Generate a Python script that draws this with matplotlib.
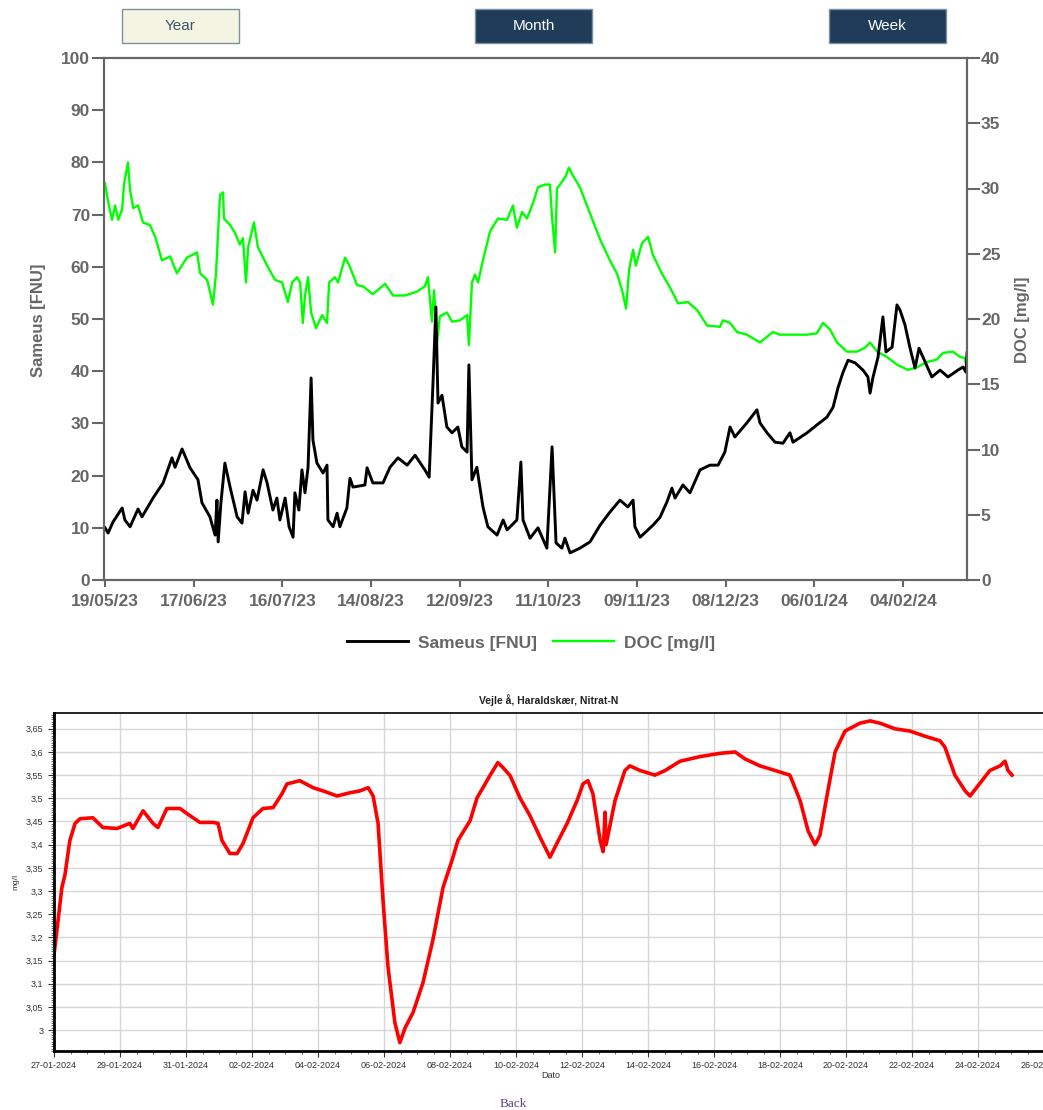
import matplotlib
matplotlib.use('Agg')
import matplotlib.pyplot as plt
import matplotlib.dates as mdates
from matplotlib.patches import Rectangle
from matplotlib.ticker import MultipleLocator, FuncFormatter
from matplotlib.lines import Line2D
import pandas as pd

plt.rcParams['font.family'] = ['Liberation Sans', 'DejaVu Sans']

# --- top chart: Sameus (turbidity) and DOC, days since 19/05/23 ---
top_start = pd.Timestamp("2023-05-19")
sameus_days = [0, 1.0, 2.6, 5.6, 6.5, 8.2, 10.8, 12.1, 15.7, 19.0, 21.9, 22.9, 25.2, 27.8, 30.4,
               31.7, 34.3, 36.0, 36.6, 37.0, 37.9, 39.2, 40.9, 43.2, 44.8, 45.8, 46.8, 48.4, 49.7,
               51.7, 53.0, 54.9, 56.2, 57.2, 58.9, 60.2, 61.5, 62.1, 63.4, 64.4, 65.4, 66.4, 67.4,
               68.0, 69.3, 71.3, 72.6, 72.9, 74.6, 75.9, 76.8, 79.1, 80.1, 81.1, 85.0, 85.7, 87.6,
               90.9, 93.2, 95.8, 98.8, 101.4, 104.6, 106.0, 107.3, 108.2, 108.9, 110.2, 111.8,
               113.5, 115.4, 116.7, 118.4, 119.0, 120.0, 121.6, 123.6, 125.2, 128.2, 130.2, 131.5,
               134.7, 136.0, 136.7, 139.0, 141.6, 144.5, 146.2, 147.5, 149.4, 150.4, 152.1, 155.3,
               158.6, 161.9, 165.1, 168.4, 171.0, 172.7, 173.3, 175.0, 179.2, 181.5, 183.8, 185.4,
               186.4, 189.0, 191.3, 194.6, 197.8, 200.5, 202.7, 204.4, 206.0, 209.9, 213.2, 214.2,
               216.5, 219.1, 221.7, 224.0, 225.0, 229.6, 232.8, 236.1, 238.1, 239.7, 241.3, 243.0,
               245.3, 247.9, 249.5, 250.2, 251.1, 252.8, 254.4, 255.4, 257.4, 259.0, 260.0, 261.6,
               263.2, 264.9, 266.2, 268.2, 270.4, 273.1, 275.7, 278.9, 280.6, 281.6, 281.9]
sameus_fnu = [10.0, 9.0, 11.1, 13.8, 11.5, 10.2, 13.6, 12.1, 15.7, 18.6, 23.4, 21.6, 25.1, 21.5, 19.2,
              14.8, 12.1, 8.6, 15.3, 7.3, 14.8, 22.4, 17.8, 12.1, 10.9, 16.9, 12.8, 17.2, 15.3,
              21.1, 18.6, 13.4, 15.7, 11.5, 15.7, 10.2, 8.2, 16.7, 13.4, 21.1, 16.7, 21.6, 38.7,
              26.8, 22.4, 20.5, 22.0, 11.5, 10.2, 12.8, 10.2, 13.8, 19.5, 17.8, 18.2, 21.5, 18.6,
              18.6, 21.6, 23.4, 22.0, 23.9, 21.1, 19.7, 38.3, 52.3, 33.9, 35.4, 29.3,
              28.2, 29.3, 25.5, 24.5, 41.2, 19.2, 21.6, 14.0, 10.2, 8.6, 11.5, 9.6,
              11.5, 22.6, 11.5, 8.0, 10.0, 6.1, 25.5, 7.1, 6.1, 8.0, 5.2, 6.1,
              7.3, 10.5, 13.0, 15.3, 14.0, 15.3, 10.2, 8.2, 10.5, 12.0, 15.0, 17.6,
              15.7, 18.2, 16.7, 21.1, 22.0, 22.0, 24.5, 29.3, 27.4, 30.1, 32.6, 30.1,
              28.2, 26.4, 26.2, 28.2, 26.4, 28.2, 29.7, 31.2, 33.1, 36.8, 39.7, 42.1,
              41.6, 40.2, 38.9, 35.8, 38.7, 42.7, 50.4, 43.7, 44.6, 52.7, 51.7, 48.9,
              44.6, 40.6, 44.4, 41.8, 38.9, 40.2, 38.9, 40.2, 40.8, 39.8, 43.5]

doc_days = [0, 1.0, 2.3, 3.3, 4.3, 5.6, 6.2, 7.5, 8.2, 9.2, 10.8, 12.4, 14.7, 16.4, 18.6, 21.3,
            23.5, 26.8, 30.1, 31.1, 33.4, 35.3, 36.3, 37.6, 38.6, 38.9, 40.9, 42.5, 44.1, 45.1,
            46.1, 46.8, 48.7, 50.0, 53.0, 55.6, 57.9, 59.8, 61.2, 62.8, 63.8, 64.7, 65.4, 66.4,
            67.4, 69.0, 71.0, 72.6, 73.3, 75.2, 76.2, 78.5, 80.1, 82.4, 84.4, 87.6, 91.6, 94.2,
            98.1, 102.0, 104.6, 105.6, 106.9, 107.6, 108.6, 109.5, 111.8, 113.5, 116.1, 118.4,
            119.0, 120.0, 121.0, 122.0, 123.6, 125.9, 128.5, 131.5, 133.4, 134.7, 136.4, 138.0,
            140.0, 141.6, 143.9, 145.5, 146.2, 147.2, 147.8, 149.4, 150.8, 151.7, 153.0, 155.3,
            158.6, 161.9, 165.1, 167.4, 169.1, 170.4, 171.4, 172.7, 173.6, 175.6, 177.6, 179.2,
            182.1, 184.8, 187.4, 190.6, 193.6, 196.9, 201.1, 202.1, 204.4, 206.7, 209.9, 214.2,
            218.4, 220.7, 225.0, 229.6, 232.8, 234.8, 237.1, 239.4, 242.6, 245.9, 248.5, 250.2,
            252.5, 255.7, 259.0, 262.6, 265.5, 268.8, 272.1, 274.0, 277.3, 279.6, 281.2, 281.9]
doc_mgl = [30.4, 29.0, 27.6, 28.7, 27.6, 28.4, 30.3, 32.0, 29.9, 28.5, 28.7, 27.4, 27.2, 26.3, 24.5, 24.8,
           23.5, 24.7, 25.1, 23.5, 23.0, 21.1, 23.5, 29.5, 29.7, 27.7, 27.2, 26.6, 25.7, 26.2,
           22.8, 25.5, 27.4, 25.5, 24.1, 23.0, 22.8, 21.3, 22.8, 23.2, 22.8, 19.7, 21.8, 23.2,
           20.5, 19.3, 20.3, 19.7, 22.8, 23.2, 22.8, 24.7, 24.0, 22.6, 22.5, 21.9, 22.7, 21.8,
           21.8, 22.1, 22.5, 23.2, 19.8, 22.2, 18.2, 20.2, 20.5, 19.8, 19.9, 20.3,
           18.0, 22.8, 23.4, 22.8, 24.5, 26.7, 27.7, 27.6, 28.7, 27.0, 28.2, 27.7,
           28.9, 30.1, 30.3, 30.3, 27.8, 25.1, 30.0, 30.5, 31.0, 31.6, 31.0, 30.1,
           28.1, 26.1, 24.5, 23.5, 22.2, 20.8, 23.8, 25.3, 24.1, 25.8, 26.3, 24.9,
           23.5, 22.4, 21.2, 21.3, 20.7, 19.5, 19.4, 19.9, 19.7, 19.0, 18.8, 18.2,
           19.0, 18.8, 18.8, 18.8, 18.9, 19.7, 19.2, 18.2, 17.5, 17.5, 17.8, 18.2,
           17.5, 17.1, 16.5, 16.1, 16.3, 16.7, 16.9, 17.4, 17.5, 17.1, 17.0, 16.1]

# --- bottom chart: Nitrat-N, days since 27-01-2024 ---
bot_start = pd.Timestamp("2024-01-27")
nitrat_days = [0.00, 0.24, 0.33, 0.48, 0.64, 0.79, 1.18, 1.48, 1.91, 2.30, 2.39, 2.70, 3.00, 3.15,
               3.42, 3.82, 4.03, 4.42, 4.82, 4.97, 5.09, 5.33, 5.55, 5.73, 6.03, 6.33, 6.64, 6.91,
               7.06, 7.45, 7.85, 8.15, 8.58, 8.97, 9.27, 9.52, 9.67, 9.82, 9.97, 10.12, 10.33,
               10.48, 10.64, 10.88, 11.18, 11.48, 11.79, 12.06, 12.24, 12.61, 12.82, 13.00, 13.21,
               13.45, 13.61, 13.82, 14.12, 14.42, 14.73, 15.03, 15.24, 15.55, 15.85, 16.03, 16.18,
               16.33, 16.55, 16.64, 16.70, 16.73, 17.00, 17.30, 17.45, 17.76, 18.21, 18.52, 18.97,
               19.58, 20.18, 20.64, 20.94, 21.39, 21.85, 22.30, 22.61, 22.85, 23.06, 23.21, 23.45,
               23.67, 23.97, 24.42, 24.73, 25.03, 25.48, 25.94, 26.39, 26.85, 27.00, 27.30, 27.61,
               27.76, 28.00, 28.36, 28.67, 28.82, 28.91, 29.03]
nitrat_mgl = [3.162, 3.308, 3.334, 3.409, 3.446, 3.456, 3.458, 3.437, 3.435, 3.446, 3.435, 3.473, 3.446, 3.437,
              3.478, 3.478, 3.467, 3.448, 3.448, 3.446, 3.409, 3.381, 3.381, 3.403, 3.458, 3.478, 3.480, 3.510,
              3.531, 3.538, 3.523, 3.516, 3.505, 3.512, 3.516, 3.523, 3.505, 3.446, 3.280, 3.137, 3.016,
              2.973, 3.005, 3.038, 3.102, 3.194, 3.308, 3.366, 3.409, 3.452, 3.501, 3.523, 3.549,
              3.577, 3.566, 3.549, 3.501, 3.463, 3.416, 3.373, 3.403, 3.446, 3.495, 3.531, 3.538,
              3.510, 3.409, 3.385, 3.470, 3.400, 3.495, 3.560, 3.570, 3.560, 3.550, 3.560, 3.580,
              3.590, 3.597, 3.600, 3.585, 3.570, 3.560, 3.550, 3.495, 3.430, 3.400, 3.420, 3.516,
              3.600, 3.645, 3.662, 3.667, 3.662, 3.650, 3.645, 3.634, 3.624, 3.610, 3.550, 3.516,
              3.505, 3.527, 3.560, 3.570, 3.580, 3.560, 3.550]

W, H = 1043, 1110
fig = plt.figure(figsize=(W / 100, H / 100), dpi=100)
fig.patch.set_facecolor("white")

grey = "#666666"

# buttons
buttons = [("Year", 122, "#f4f4e3", "#3f5366"), ("Month", 475, "#1f3d58", "white"),
           ("Week", 829, "#1f3d58", "white")]
for label, bx, fill, tc in buttons:
    fig.add_artist(Rectangle((bx / W, 1 - 43 / H), 117 / W, 34 / H, transform=fig.transFigure,
                             facecolor=fill, edgecolor="#7f8f9c", lw=1))
    fig.text((bx + 58.5) / W, 1 - 26 / H, label, color=tc, fontsize=11, ha="center", va="center")

# top chart
ax1 = fig.add_axes([104 / W, 1 - 580 / H, (967 - 104) / W, (580 - 58) / H])
ax2 = ax1.twinx()
t_sameus = top_start + pd.to_timedelta(sameus_days, unit="D")
t_doc = top_start + pd.to_timedelta(doc_days, unit="D")
ax2.plot(t_doc, doc_mgl, color="#00ff00", lw=1.7)
ax1.plot(t_sameus, sameus_fnu, color="black", lw=2.1)
ax1.set_zorder(ax2.get_zorder() + 1)
ax1.patch.set_visible(False)

ax1.set_ylim(0, 100)
ax2.set_ylim(0, 40)
ax1.set_xlim(top_start - pd.Timedelta(hours=8), top_start + pd.Timedelta(days=281.9))
ax1.yaxis.set_major_locator(MultipleLocator(10))
ax2.yaxis.set_major_locator(MultipleLocator(5))
tick_dates = [top_start + pd.Timedelta(days=29 * i) for i in range(10)]
ax1.set_xticks(tick_dates)
ax1.xaxis.set_major_formatter(mdates.DateFormatter("%d/%m/%y"))
for ax in (ax1, ax2):
    for s in ax.spines.values():
        s.set_color(grey)
        s.set_linewidth(1.5)
    ax.tick_params(colors=grey, width=1.5, labelsize=12.5)
    for lab in ax.get_xticklabels() + ax.get_yticklabels():
        lab.set_fontweight("bold")
ax1.tick_params(axis="y", length=9, pad=1)
ax2.tick_params(axis="y", length=9, pad=1)
ax1.tick_params(axis="x", length=5, pad=5)

fig.text(38 / W, 1 - 320 / H, "Sameus [FNU]", rotation=90, color=grey, fontsize=12,
         fontweight="bold", ha="center", va="center")
fig.text(1022 / W, 1 - 320 / H, "DOC [mg/l]", rotation=90, color=grey, fontsize=12,
         fontweight="bold", ha="center", va="center")

handles = [Line2D([], [], color="black", lw=2.1), Line2D([], [], color="#00ff00", lw=1.7)]
fig.legend(handles, ["Sameus [FNU]", "DOC [mg/l]"], loc="center",
           bbox_to_anchor=(531 / W, 1 - 643 / H), ncol=2, frameon=False,
           prop={"weight": "bold", "size": 12.5}, labelcolor=grey, handlelength=3.5,
           handletextpad=0.6, columnspacing=0.9)

# bottom chart
ax3 = fig.add_axes([54 / W, 1 - 1051 / H, (1077 - 54) / W, (1051 - 713) / H])
t_nitrat = bot_start + pd.to_timedelta(nitrat_days, unit="D")
ax3.plot(t_nitrat, nitrat_mgl, color="#ff0000", lw=2.6)
ax3.set_xlim(bot_start, bot_start + pd.Timedelta(days=31))
ax3.set_ylim(2.955, 3.684)
ax3.yaxis.set_major_locator(MultipleLocator(0.05))
ax3.yaxis.set_minor_locator(MultipleLocator(0.005))
ax3.yaxis.set_major_formatter(FuncFormatter(lambda v, p: ("%g" % round(v, 2)).replace(".", ",")))
ax3.set_xticks([bot_start + pd.Timedelta(days=2 * i) for i in range(16)])
ax3.set_xticks([bot_start + pd.Timedelta(hours=12 * i) for i in range(63)], minor=True)
ax3.xaxis.set_major_formatter(mdates.DateFormatter("%d-%m-%Y"))
ax3.grid(True, which="major", color="#d6d6d6", lw=1)
ax3.set_axisbelow(True)
for s in ax3.spines.values():
    s.set_color("black")
ax3.spines["left"].set_linewidth(2)
ax3.spines["bottom"].set_linewidth(2)
ax3.spines["top"].set_linewidth(1.2)
ax3.tick_params(axis="both", which="major", labelsize=6.5, colors="#333333", length=4, width=0.8)
ax3.tick_params(axis="both", which="minor", length=2, width=0.6, colors="#555555")

fig.text(549 / W, 1 - 700 / H, "Vejle å, Haraldskær, Nitrat-N", fontsize=7.5, fontweight="bold",
         ha="center", va="center", color="#222222")
fig.text(16 / W, 1 - 882 / H, "mg/l", rotation=90, fontsize=6, ha="center", va="center",
         color="#333333")
fig.text(551 / W, 1 - 1075 / H, "Dato", fontsize=6.5, ha="center", va="center", color="#333333")
fig.text(513 / W, 1 - 1104 / H, "Back", fontsize=9.5, ha="center", va="center",
         color="#5c3d8f", family="Liberation Serif")

fig.savefig("out.png", dpi=100)
